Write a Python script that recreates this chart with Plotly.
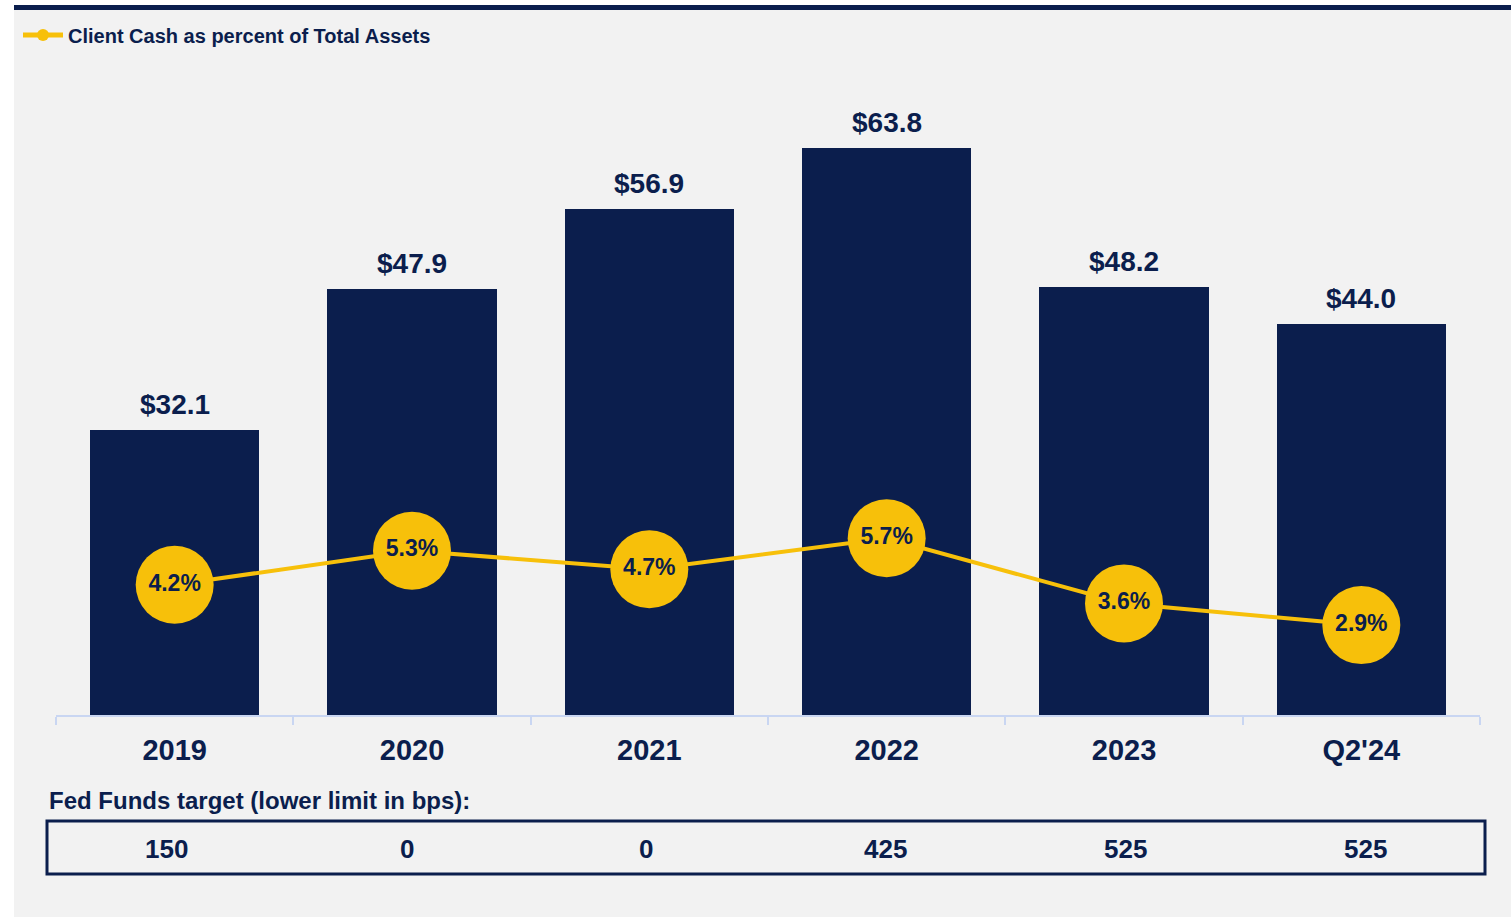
import plotly.graph_objects as go

W, H = 1511, 917

NAVY = "#0b1e4d"
GOLD = "#f7c00a"
BG = "#f2f2f2"
AXIS = "#c9d6f2"
FONT = "Liberation Sans"

categories = ["2019", "2020", "2021", "2022", "2023", "Q2'24"]
client_cash = [32.1, 47.9, 56.9, 63.8, 48.2, 44.0]          # $ bn
cash_pct_assets = [4.2, 5.3, 4.7, 5.7, 3.6, 2.9]             # %
fed_funds_bps = [150, 0, 0, 425, 525, 525]

legend_name = "Client Cash as percent of Total Assets"
table_title = "Fed Funds target (lower limit in bps):"


def px(x):
    return x / W


def py(y):
    return 1 - y / H


fig = go.Figure()

fig.add_trace(
    go.Bar(
        x=categories,
        y=client_cash,
        marker=dict(color=NAVY, line=dict(width=0)),
        width=0.713,
        showlegend=False,
        hoverinfo="skip",
    )
)

fig.add_trace(
    go.Scatter(
        x=categories,
        y=cash_pct_assets,
        yaxis="y2",
        mode="lines+markers",
        name=legend_name,
        line=dict(color=GOLD, width=4),
        marker=dict(color=GOLD, size=78),
        showlegend=True,
    )
)

# percent labels inside the circles
fig.add_trace(
    go.Scatter(
        x=categories,
        y=cash_pct_assets,
        yaxis="y2",
        mode="text",
        text=[f"{v:.1f}%" for v in cash_pct_assets],
        textposition="middle center",
        textfont=dict(family=FONT, size=23, color=NAVY, weight="bold"),
        showlegend=False,
        hoverinfo="skip",
    )
)

# bar value labels (x as category index so "2019" isn't read as a number)
for i, v in enumerate(client_cash):
    fig.add_annotation(
        x=i, y=v, xref="x", yref="y",
        text=f"${v:.1f}",
        showarrow=False,
        yanchor="bottom",
        yshift=8,
        font=dict(family=FONT, size=28, color=NAVY, weight="bold"),
    )

fig.add_annotation(
    x=px(47), y=py(800), xref="paper", yref="paper", text=table_title,
    showarrow=False, xanchor="left", yanchor="middle",
    font=dict(family=FONT, size=24, color=NAVY, weight="bold"),
)
col_w = (1485 - 47) / len(fed_funds_bps)
for i, v in enumerate(fed_funds_bps):
    fig.add_annotation(
        x=px(47 + col_w * (i + 0.5)), y=py(849), xref="paper", yref="paper",
        text=str(v), showarrow=False, xanchor="center", yanchor="middle",
        font=dict(family=FONT, size=26, color=NAVY, weight="bold"),
    )

# grey panel, top rule and fed funds box
fig.add_shape(type="rect", xref="paper", yref="paper", x0=px(14), x1=1, y0=0, y1=py(10),
              fillcolor=BG, line=dict(width=0), layer="below")
fig.add_shape(type="rect", xref="paper", yref="paper", x0=px(14), x1=1, y0=py(10), y1=py(5),
              fillcolor=NAVY, line=dict(width=0), layer="below")
fig.add_shape(type="rect", xref="paper", yref="paper", x0=px(47), x1=px(1485), y0=py(874), y1=py(821),
              fillcolor="rgba(0,0,0,0)", line=dict(color=NAVY, width=3))

y_top = 100
y_bot = 715
plot_h = y_bot - y_top

fig.update_layout(
    width=W,
    height=H,
    margin=dict(l=0, r=0, t=0, b=0),
    paper_bgcolor="white",
    plot_bgcolor="rgba(0,0,0,0)",
    font=dict(family=FONT, color=NAVY),
    bargap=0,
    showlegend=True,
    legend=dict(
        x=px(18), y=py(35), xanchor="left", yanchor="middle",
        bgcolor="rgba(0,0,0,0)",
        itemsizing="constant",
        itemwidth=40,
        font=dict(family=FONT, size=20, color=NAVY, weight="bold"),
    ),
    xaxis=dict(
        type="category",
        domain=[px(56), px(1480)],
        range=[-0.5, 5.5],
        showgrid=False,
        zeroline=False,
        showline=True,
        linecolor=AXIS,
        linewidth=2,
        ticks="outside",
        tickson="boundaries",
        ticklen=8,
        tickcolor=AXIS,
        tickwidth=2,
        tickfont=dict(family=FONT, size=29, color=NAVY, weight="bold"),
        ticklabelstandoff=8,
    ),
    yaxis=dict(
        domain=[py(y_bot), py(y_top)],
        range=[0, plot_h / 8.89],
        visible=False,
        showgrid=False,
    ),
    yaxis2=dict(
        domain=[py(y_bot), py(y_top)],
        overlaying="y",
        range=[0, plot_h / 31.0],
        visible=False,
        showgrid=False,
    ),
)

# page body margin would shift the 1511x917 figure off the window
fig.write_html(
    "out.html",
    config={"displayModeBar": False},
    post_script="document.body.style.margin='0';document.body.style.overflow='hidden';",
)
